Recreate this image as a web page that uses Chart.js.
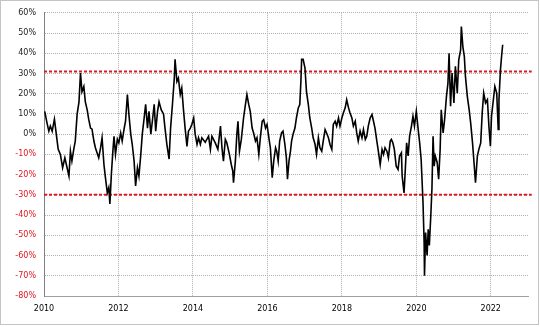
<!DOCTYPE html>
<html>
<head>
<meta charset="utf-8">
<script src="https://cdn.jsdelivr.net/npm/chart.js"></script>
<style>
    body { margin: 0; background: #fff; }
    #frame { position: absolute; left: 0; top: 0; width: 537px; height: 323px; border: 1px solid #c4c4c4; }
    #myChart { position: absolute; left: 0; top: 0; }
</style>
</head>
<body>
<div id="frame"></div>
<canvas id="myChart" width="540" height="327"></canvas>
<script>
// ----- DATA -----
// tanggal dalam tahun desimal, nilai dalam persen
const dates = [
    2010.02, 2010.08, 2010.13, 2010.17, 2010.22, 2010.28, 2010.32, 2010.38, 2010.44, 2010.50,
    2010.56, 2010.62, 2010.67, 2010.71, 2010.75, 2010.80, 2010.84, 2010.89, 2010.94, 2010.98,
    2011.02, 2011.07, 2011.11, 2011.16, 2011.20, 2011.25, 2011.29, 2011.34, 2011.38, 2011.47,
    2011.52, 2011.56, 2011.61, 2011.65, 2011.70, 2011.74, 2011.77, 2011.81, 2011.85, 2011.88,
    2011.92, 2011.97, 2012.01, 2012.06, 2012.10, 2012.15, 2012.19, 2012.24, 2012.28, 2012.33,
    2012.37, 2012.42, 2012.46, 2012.51, 2012.55, 2012.60, 2012.64, 2012.69, 2012.73, 2012.78,
    2012.82, 2012.87, 2012.91, 2012.96, 2013.00, 2013.05, 2013.09, 2013.15, 2013.21, 2013.25,
    2013.30, 2013.36, 2013.40, 2013.45, 2013.50, 2013.52, 2013.57, 2013.61, 2013.66, 2013.70,
    2013.75, 2013.79, 2013.84, 2013.88, 2013.93, 2013.97, 2014.02, 2014.06, 2014.11, 2014.15,
    2014.20, 2014.24, 2014.33, 2014.42, 2014.47, 2014.51, 2014.60, 2014.67, 2014.74, 2014.78,
    2014.82, 2014.87, 2014.91, 2014.98, 2015.03, 2015.07, 2015.09, 2015.14, 2015.18, 2015.21,
    2015.25, 2015.30, 2015.36, 2015.41, 2015.45, 2015.50, 2015.54, 2015.59, 2015.63, 2015.68,
    2015.72, 2015.77, 2015.81, 2015.86, 2015.90, 2015.95, 2015.99, 2016.04, 2016.08, 2016.13,
    2016.17, 2016.22, 2016.25, 2016.29, 2016.33, 2016.38, 2016.42, 2016.47, 2016.51, 2016.54,
    2016.58, 2016.62, 2016.65, 2016.69, 2016.74, 2016.78, 2016.83, 2016.87, 2016.90, 2016.92,
    2016.96, 2017.01, 2017.05, 2017.10, 2017.14, 2017.19, 2017.23, 2017.28, 2017.32, 2017.37,
    2017.41, 2017.46, 2017.50, 2017.55, 2017.59, 2017.64, 2017.68, 2017.73, 2017.77, 2017.82,
    2017.86, 2017.91, 2017.95, 2018.00, 2018.04, 2018.09, 2018.13, 2018.18, 2018.22, 2018.27,
    2018.31, 2018.36, 2018.40, 2018.44, 2018.49, 2018.54, 2018.58, 2018.63, 2018.67, 2018.71,
    2018.76, 2018.81, 2018.85, 2018.89, 2018.94, 2018.98, 2019.03, 2019.08, 2019.12, 2019.16,
    2019.21, 2019.25, 2019.30, 2019.33, 2019.37, 2019.41, 2019.46, 2019.51, 2019.55, 2019.60,
    2019.62, 2019.67, 2019.70, 2019.74, 2019.78, 2019.82, 2019.87, 2019.91, 2019.95, 2020.00,
    2020.05, 2020.09, 2020.13, 2020.18, 2020.21, 2020.22, 2020.25, 2020.29, 2020.32, 2020.35,
    2020.39, 2020.42, 2020.45, 2020.48, 2020.51, 2020.56, 2020.60, 2020.64, 2020.67, 2020.72,
    2020.76, 2020.81, 2020.85, 2020.88, 2020.92, 2020.96, 2021.01, 2021.05, 2021.10, 2021.14,
    2021.19, 2021.21, 2021.25, 2021.29, 2021.32, 2021.37, 2021.42, 2021.46, 2021.51, 2021.55,
    2021.59, 2021.64, 2021.68, 2021.73, 2021.77, 2021.81, 2021.86, 2021.91, 2021.95, 2021.99,
    2022.02, 2022.07, 2022.11, 2022.16, 2022.20, 2022.22, 2022.26, 2022.29, 2022.32
];

const values = [
    11.3, 5.6, 1.5, 4, 1.5, 7.4, 1.5, -7.4, -10, -16.6,
    -11.7, -16.6, -20.7, -8.4, -13.3, -7.4, -3.4, 9.9, 16, 30.2,
    21, 23.6, 16, 12, 7.4, 3, 2.5, -3.4, -6.7, -11.7,
    -6.7, -1.8, -15, -21.5, -29, -26.4, -34.5, -19.7, -8.4, -1,
    -10, -2.5, -4.3, 0.6, -3.4, 2.5, 6.4, 19.6, 9.9, 0,
    -5, -13.3, -25.6, -16.6, -20.7, -10, 0, 8, 14.8, 3,
    11.3, 0, 6.4, 14.8, 1.5, 11.3, 16, 12, 10, 3,
    -5, -12.3, 3, 14.8, 27.7, 37, 26, 27.7, 19.6, 22.8,
    11.3, 3, -6, 1.5, 3, 4.8, 8, 0, -5, -1.8,
    -5, -1.8, -4, -1, -7.5, -1, -4.3, -7.5, 4, -6.7,
    -13.3, -2.6, -4.3, -10, -15, -18.2, -24, -13.3, 0, 6.4,
    -8.4, -2.6, 8, 14.6, 19.6, 14.6, 11.3, 3, 0.6, -3.4,
    -1.8, -10, -1.8, 6.4, 7.2, 3, 4.8, -1.8, -6.7, -21.5,
    -13.3, -6.7, -8.4, -13.3, -3.4, 0.6, 1.5, -5, -11.7, -22.3,
    -13.3, -8.4, -3.4, 0, 3, 8, 13, 14.6, 26, 37,
    37, 32.7, 21, 14.6, 8, 3, -1.8, -5, -10, -1.8,
    -6.7, -8.4, -3.4, 2.3, 0.6, -1.8, -5, -7.5, 4.8, 6.4,
    4, 8, 4, 8, 10.5, 13, 17, 13, 10.5, 8,
    4, 6.4, 0.6, -3.4, 1.5, -1.8, 2.3, -2.6, -1, 4,
    8, 9.7, 6.4, 3, -3.4, -8.4, -15, -7.5, -10, -6.7,
    -8.4, -11.7, -3.4, -2.6, -4.3, -7.5, -15.8, -17.4, -10.8, -9.2,
    -20.7, -29, -19, -4.3, -10.8, -1, 4, 8.9, 4, 11.3,
    2.3, -4.3, -12.5, -33.8, -53.5, -70, -48.6, -60, -47, -55,
    -40, -27, -1, -15.8, -10.8, -14, -22.3, -7.5, 12, 0.6,
    7.2, 18.7, 25.3, 40, 13.8, 30.2, 15.4, 33.5, 20.3, 36.8,
    41.7, 53.2, 43.3, 38.4, 28.6, 18.7, 12, 5.6, -4.3, -14,
    -24, -10.8, -7.5, -4.3, 10.5, 20.3, 15.4, 17, 4, -6,
    8.9, 17, 23.6, 20.3, 2.3, 17, 31.8, 38.4, 44.2
];

// garis batas merah
const upperBand = 31;
const lowerBand = -30;
const bandStart = 2010;
const bandEnd = 2023.1;

// sumbu
const xMin = 2010;
const xMax = 2023;
const yMin = -80;
const yMax = 60;

Chart.defaults.font.family = "'DejaVu Sans', Verdana, sans-serif";
Chart.defaults.font.size = 8;

const seriesData = dates.map((d, i) => ({ x: d, y: values[i] }));

function bandLine(level) {
    return {
        data: [{ x: bandStart, y: level }, { x: bandEnd, y: level }],
        borderColor: '#e3161e',
        borderWidth: 2,
        borderDash: [3, 2],
        pointRadius: 0,
        clip: false
    };
}

const ctx = document.getElementById('myChart').getContext('2d');

new Chart(ctx, {
    type: 'line',
    data: {
        datasets: [
            {
                data: seriesData,
                borderColor: '#000',
                borderWidth: 1.6,
                pointRadius: 0,
                tension: 0
            },
            bandLine(upperBand),
            bandLine(lowerBand)
        ]
    },
    options: {
        responsive: false,
        animation: false,
        layout: { padding: { top: 12, right: 12, left: 0, bottom: 0 } },
        plugins: {
            legend: { display: false },
            tooltip: { enabled: false }
        },
        scales: {
            x: {
                type: 'linear',
                min: xMin,
                max: xMax,
                afterBuildTicks: scale => {
                    scale.ticks = scale.ticks.filter(t => t.value % 2 === 0);
                },
                afterFit: scale => { scale.height = 31; },
                ticks: {
                    stepSize: 2,
                    padding: 8,
                    color: '#000',
                    maxRotation: 0,
                    callback: v => String(v)
                },
                grid: { color: '#b0b0b0', drawTicks: false },
                border: { display: true, color: '#a0a0a0', dash: [1, 1] }
            },
            y: {
                min: yMin,
                max: yMax,
                afterFit: scale => { scale.width = 44; },
                ticks: {
                    stepSize: 10,
                    padding: 8,
                    color: c => c.tick.value < 0 ? '#e0141c' : '#222',
                    callback: v => v + '%'
                },
                grid: { color: '#b0b0b0', drawTicks: false },
                border: { display: true, color: '#808080', dash: [1, 1] }
            }
        }
    }
});
</script>
</body>
</html>
